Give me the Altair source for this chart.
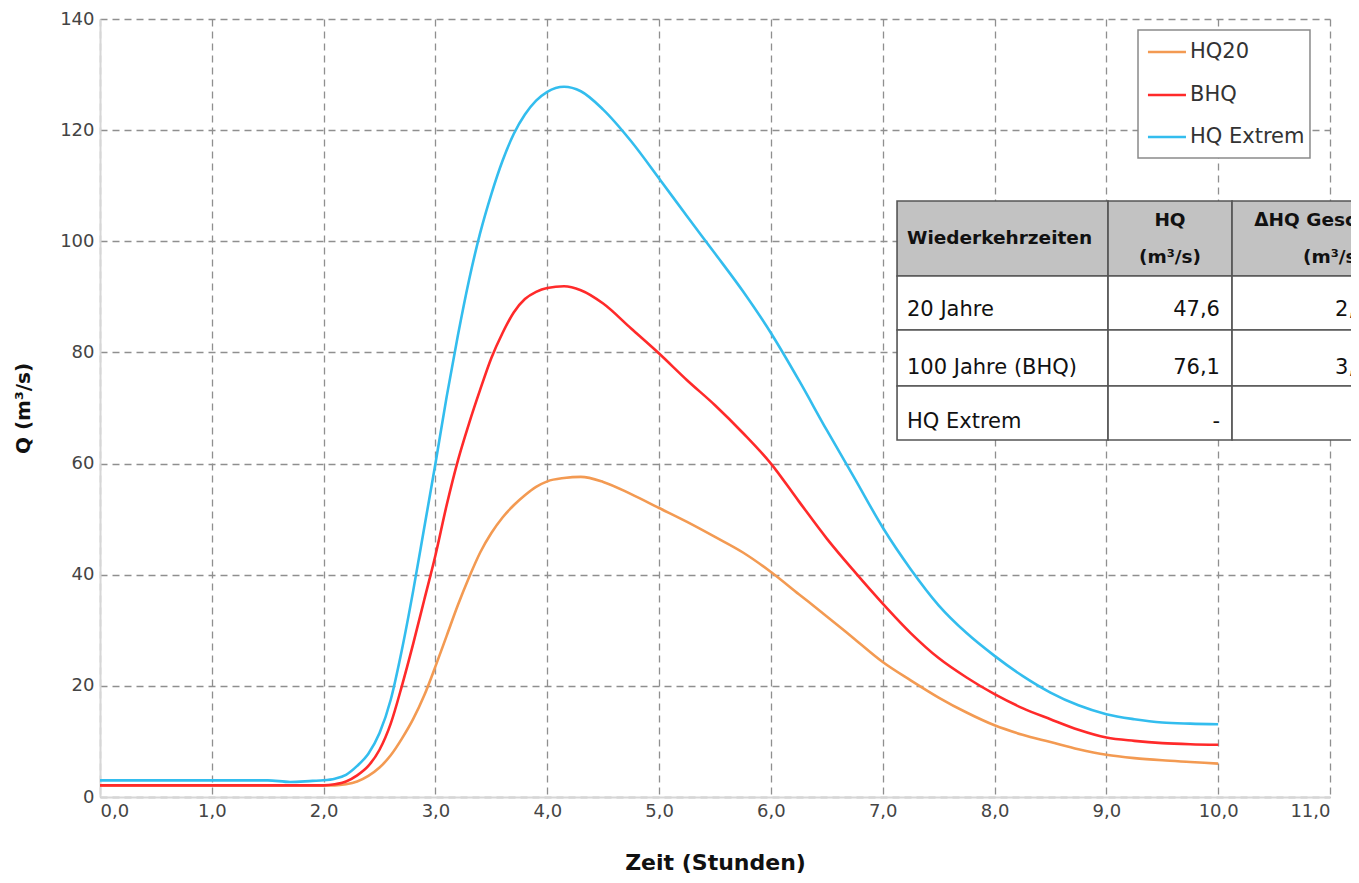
import altair as alt
import pandas as pd

# ---------------- data ----------------
time_h = [0.0, 0.5, 1.0, 1.5, 1.7, 1.9, 2.0, 2.1, 2.2, 2.3, 2.4, 2.5, 2.6, 2.7, 2.8, 2.9,
          3.0, 3.1, 3.2, 3.3, 3.4, 3.5, 3.6, 3.7, 3.8, 3.9, 4.0, 4.15, 4.3, 4.5, 4.75,
          5.0, 5.25, 5.5, 5.75, 6.0, 6.25, 6.5, 6.75, 7.0, 7.25, 7.5, 7.75, 8.0, 8.25,
          8.5, 8.75, 9.0, 9.25, 9.5, 9.75, 10.0]

hq20 = [2.1, 2.1, 2.1, 2.1, 2.1, 2.1, 2.1, 2.1, 2.3, 2.8, 3.8, 5.3, 7.5, 10.5, 14.0, 18.3,
        23.5, 29.0, 34.5, 39.5, 44.0, 47.5, 50.3, 52.5, 54.3, 55.8, 56.8, 57.4, 57.6, 56.7, 54.5,
        52.0, 49.5, 46.8, 44.0, 40.5, 36.5, 32.5, 28.4, 24.3, 21.0, 17.9, 15.2, 12.9, 11.2,
        9.9, 8.6, 7.6, 7.0, 6.6, 6.3, 6.0]

bhq = [2.1, 2.1, 2.1, 2.1, 2.1, 2.1, 2.1, 2.3, 2.8, 3.9, 5.6, 8.5, 13.2, 20.0, 27.5, 35.5,
       43.5, 52.5, 60.5, 67.2, 73.3, 79.0, 83.5, 87.2, 89.6, 90.9, 91.6, 91.9, 91.2, 88.8, 84.3,
       79.8, 75.0, 70.5, 65.5, 60.0, 53.2, 46.5, 40.5, 34.8, 29.5, 25.0, 21.5, 18.5, 16.0,
       14.0, 12.1, 10.7, 10.1, 9.7, 9.5, 9.4]

hq_extrem = [3.0, 3.0, 3.0, 3.0, 2.7, 2.9, 3.0, 3.3, 4.0, 5.6, 7.8, 11.5, 17.5, 26.5, 37.0, 48.5,
             60.0, 72.0, 83.0, 93.0, 101.5, 108.5, 114.5, 119.3, 122.8, 125.3, 126.9, 127.8, 127.0, 123.7, 118.0,
             111.3, 104.5, 97.8, 91.0, 83.5, 75.0, 66.0, 57.3, 48.5, 41.0, 34.5, 29.5, 25.4, 21.8,
             18.8, 16.5, 14.9, 14.0, 13.4, 13.2, 13.1]

series_names = ["HQ20", "BHQ", "HQ Extrem"]
series_values = [hq20, bhq, hq_extrem]

x_ticks = list(range(0, 12))
y_ticks = list(range(0, 141, 20))

# table content
tab_header = ["Wiederkehrzeiten", "HQ", "(m³/s)", "ΔHQ Geschiebe", "(m³/s)"]
tab_rows = ["20 Jahre", "100 Jahre (BHQ)", "HQ Extrem"]
tab_hq = ["47,6", "76,1", "-"]
tab_dhq = ["2,4", "3,8", ""]

# ---------------- styling / layout ----------------
FONT = "DejaVu Sans"
colors = ["#F39A52", "#FF2A2A", "#33BDEE"]
X_TITLE = "Zeit (Stunden)"
Y_TITLE = "Q (m³/s)"

# table geometry in data units (hours / m³/s)
col_bounds = [7.128, 9.015, 10.124, 11.9]
row_bounds = [107.25, 93.75, 84.04, 73.96, 64.24]
x_left_text = 7.217
x_hq_center = 9.569
x_hq_right = 10.016
x_c3_center = 11.036
x_c3_left = 11.045
y_head_1 = 103.83
y_head_2 = 97.17
y_head_single = 100.6
y_rows = [87.64, 77.2, 67.48]

# legend geometry in data units
leg_box = [9.283, 10.821, 138.02, 114.98]
leg_sym = [9.372, 9.712]
leg_text_x = 9.748
leg_rows_y = [134.06, 126.33, 118.77]

rows = []
for name, vals in zip(series_names, series_values):
    for t, q in zip(time_h, vals):
        rows.append({"Zeit": t, "Q": q, "Serie": name})
df = pd.DataFrame(rows)

x_scale = alt.Scale(domain=[0, 11], nice=False, zero=False)
y_scale = alt.Scale(domain=[0, 140], nice=False)
color_scale = alt.Scale(domain=series_names, range=colors)

x_axis = alt.Axis(values=x_ticks, labelExpr="replace(format(datum.value, '.1f'), '.', ',')",
                  title=X_TITLE, titlePadding=32, labelPadding=5, titleFontSize=22)
y_axis = alt.Axis(values=y_ticks, title=Y_TITLE, titlePadding=26, labelPadding=6, titleFontSize=20)

line_layers = []
for i, name in enumerate(series_names):
    line_layers.append(
        alt.Chart(df).transform_filter(alt.datum.Serie == name)
        .mark_line(strokeWidth=2.6, interpolate="monotone")
        .encode(
            x=alt.X("Zeit:Q", scale=x_scale, axis=x_axis),
            y=alt.Y("Q:Q", scale=y_scale, axis=y_axis),
            color=alt.Color("Serie:N", scale=color_scale, legend=None),
        )
    )

# table cells
cells = []
for i in range(4):
    for j in range(3):
        cells.append({"x0": col_bounds[j], "x1": col_bounds[j + 1],
                      "y0": row_bounds[i], "y1": row_bounds[i + 1],
                      "fill": "#C2C2C2" if i == 0 else "#FFFFFF"})
cells_df = pd.DataFrame(cells)

table_rects = alt.Chart(cells_df).mark_rect(stroke="#555555", strokeWidth=1.6, clip=False).encode(
    x=alt.X("x0:Q", scale=x_scale, title=X_TITLE), x2="x1:Q",
    y=alt.Y("y0:Q", scale=y_scale, title=Y_TITLE), y2="y1:Q",
    fill=alt.Fill("fill:N", scale=None),
)


def text_layer(records, align, bold, size):
    d = pd.DataFrame(records)
    return alt.Chart(d).mark_text(align=align, baseline="middle", font=FONT,
                                  fontSize=size,
                                  fontWeight="bold" if bold else "normal",
                                  color="#111111", clip=False).encode(
        x=alt.X("tx:Q", scale=x_scale, title=X_TITLE),
        y=alt.Y("ty:Q", scale=y_scale, title=Y_TITLE),
        text="label:N",
    )


head_left = text_layer([{"tx": x_left_text, "ty": y_head_single, "label": tab_header[0]}], "left", True, 18.5)
head_center = text_layer([
    {"tx": x_hq_center, "ty": y_head_1, "label": tab_header[1]},
    {"tx": x_hq_center, "ty": y_head_2, "label": tab_header[2]},
    {"tx": x_c3_center, "ty": y_head_1, "label": tab_header[3]},
    {"tx": x_c3_center, "ty": y_head_2, "label": tab_header[4]},
], "center", True, 18.5)
body_left = text_layer([{"tx": x_left_text, "ty": y, "label": s} for s, y in zip(tab_rows, y_rows)], "left", False, 21)
body_right = text_layer([{"tx": x_hq_right, "ty": y, "label": s} for s, y in zip(tab_hq, y_rows)], "right", False, 21)
body_c3 = text_layer([{"tx": x_c3_left, "ty": y, "label": s} for s, y in zip(tab_dhq, y_rows) if s], "left", False, 21)

# manual legend
leg_box_df = pd.DataFrame([{"x0": leg_box[0], "x1": leg_box[1], "y0": leg_box[2], "y1": leg_box[3]}])
legend_box = alt.Chart(leg_box_df).mark_rect(fill="white", stroke="#8a8a8a", strokeWidth=1.5).encode(
    x=alt.X("x0:Q", scale=x_scale, title=X_TITLE), x2="x1:Q",
    y=alt.Y("y0:Q", scale=y_scale, title=Y_TITLE), y2="y1:Q",
)
leg_df = pd.DataFrame([{"Serie": n, "lx0": leg_sym[0], "lx1": leg_sym[1], "ly": y, "tx": leg_text_x}
                       for n, y in zip(series_names, leg_rows_y)])
legend_syms = alt.Chart(leg_df).mark_rule(strokeWidth=2.6).encode(
    x=alt.X("lx0:Q", scale=x_scale, title=X_TITLE), x2="lx1:Q",
    y=alt.Y("ly:Q", scale=y_scale, title=Y_TITLE),
    color=alt.Color("Serie:N", scale=color_scale, legend=None),
)
legend_text = alt.Chart(leg_df).mark_text(align="left", baseline="middle", font=FONT, fontSize=21,
                                          color="#333333").encode(
    x=alt.X("tx:Q", scale=x_scale, title=X_TITLE),
    y=alt.Y("ly:Q", scale=y_scale, title=Y_TITLE),
    text="Serie:N",
)

chart = alt.layer(*line_layers, table_rects, head_left, head_center, body_left, body_right, body_c3,
                  legend_box, legend_syms, legend_text).properties(
    width=1230, height=778,
    autosize=alt.AutoSizeParams(type="none"),
    padding={"left": 92, "top": 11, "right": 21, "bottom": 78},
).configure_view(stroke=None).configure_axis(
    labelFont=FONT, labelFontSize=18, labelColor="#444444",
    titleFont=FONT, titleFontWeight="bold", titleColor="#111111",
    grid=True, gridColor="#8f8f8f", gridDash=[7, 5], gridWidth=1.3,
    domainColor="#d6d6d6", domainWidth=2, ticks=False,
)

chart.save("out.html", embed_options={"renderer": "svg", "actions": False})
